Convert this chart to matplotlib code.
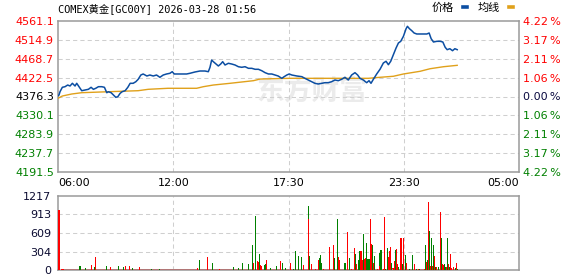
import matplotlib
matplotlib.use("Agg")
import matplotlib.pyplot as plt
from matplotlib.lines import Line2D

title = "COMEX黄金[GC00Y] 2026-03-28 01:56"
prev_close = 4376.3
price_ticks = [4191.5, 4237.7, 4283.9, 4330.1, 4376.3, 4422.5, 4468.7, 4514.9, 4561.1]
pct_labels = ["4.22\u2009%", "3.17\u2009%", "2.11\u2009%", "1.06\u2009%", "0.00\u2009%",
              "1.06\u2009%", "2.11\u2009%", "3.17\u2009%", "4.22\u2009%"]
time_ticks = [0, 345, 690, 1035, 1380]          # minutes after 06:00
time_labels = ["06:00", "12:00", "17:30", "23:30", "05:00"]
vol_ticks = [0, 304, 609, 913, 1217]

# price (minutes after 06:00)
price_min = [0, 3, 6, 13, 21, 29, 36, 43, 51, 56, 63, 71, 81, 91, 99, 106, 113, 121, 131, 139,
             146, 151, 159, 166, 173, 179, 186, 192, 201, 209, 216, 225, 233, 240, 248, 255,
             266, 275, 285, 295, 305, 315, 325, 335, 342, 348, 355, 370, 385, 395, 410, 425,
             440, 450, 455, 460, 465, 473, 480, 487, 493, 500, 510, 520, 530, 540, 550, 560,
             570, 580, 590, 600, 610, 620, 630, 640, 650, 659, 670, 677, 685, 692, 700, 715,
             730, 739, 749, 759, 769, 779, 789, 799, 809, 819, 829, 839, 849, 859, 869, 879,
             889, 897, 904, 914, 924, 931, 937, 944, 954, 964, 974, 982, 989, 996, 1004, 1012,
             1019, 1026, 1034, 1042, 1046, 1052, 1059, 1066, 1074, 1084, 1094, 1104, 1111,
             1117, 1124, 1134, 1144, 1152, 1159, 1165, 1173, 1181, 1188, 1195]
price = [4378.0, 4380.0, 4388.0, 4398.8, 4400.3, 4404.4, 4402.0, 4408.6, 4402.0, 4408.6,
         4400.3, 4390.5, 4392.2, 4393.9, 4398.8, 4393.9, 4396.4, 4400.3, 4400.3, 4398.8,
         4385.6, 4388.0, 4385.6, 4380.0, 4374.3, 4375.8, 4384.1, 4388.0, 4390.5, 4398.8,
         4408.6, 4408.6, 4412.5, 4418.4, 4428.9, 4431.4, 4426.5, 4428.9, 4426.5, 4428.9,
         4423.3, 4428.9, 4431.4, 4433.1, 4437.0, 4431.4, 4431.4, 4431.4, 4431.4, 4433.1,
         4436.3, 4438.7, 4438.7, 4437.0, 4447.8, 4465.6, 4461.5, 4455.8, 4451.0, 4455.8,
         4461.5, 4453.4, 4457.6, 4455.8, 4453.4, 4449.2, 4447.8, 4449.2, 4445.3, 4445.3,
         4442.9, 4442.9, 4439.4, 4434.6, 4431.4, 4431.4, 4428.9, 4426.5, 4420.8, 4424.8,
         4428.9, 4431.4, 4428.9, 4426.5, 4424.8, 4420.8, 4416.7, 4412.5, 4408.6, 4406.9,
         4408.6, 4410.1, 4410.1, 4412.5, 4416.7, 4415.0, 4418.4, 4423.3, 4416.7, 4428.9,
         4434.6, 4428.9, 4420.8, 4416.7, 4410.1, 4415.0, 4408.6, 4418.4, 4431.4, 4443.0,
         4458.3, 4462.5, 4454.1, 4462.5, 4478.6, 4495.0, 4507.2, 4511.4, 4523.6, 4542.3,
         4548.1, 4542.3, 4537.4, 4531.7, 4529.3, 4529.3, 4529.3, 4529.3, 4531.7, 4517.8,
         4509.7, 4511.4, 4511.4, 4509.7, 4496.7, 4490.9, 4493.3, 4488.4, 4493.3, 4490.9]

avg_min = [0, 13, 41, 71, 151, 240, 270, 329, 415, 435, 465, 515, 585, 605, 692, 929,
           964, 1004, 1034, 1084, 1114, 1154, 1195]
avg_price = [4371.9, 4377.5, 4382.4, 4385.6, 4388.0, 4390.5, 4393.9, 4396.4, 4396.4, 4400.3,
             4404.4, 4408.6, 4415.0, 4419.0, 4420.8, 4420.8, 4423.3, 4425.8, 4431.4, 4438.0,
             4444.3, 4449.2, 4452.6]

# volume
quiet_min = list(range(15, 1186, 15))
quiet_vol = [18, 12, 15, 20, 14, 16, 12, 18, 15, 13,
             17, 14, 20, 12, 15, 16, 13, 18, 14, 12,
             16, 15, 19, 13, 14, 17, 12, 15, 18, 14,
             16, 13, 15, 20, 14, 12, 17, 15, 13, 18,
             16, 14, 19, 15, 12, 17, 14, 20, 16, 13,
             18, 15, 22, 17, 14, 19, 16, 24, 18, 15,
             20, 17, 14, 22, 18, 16, 25, 19, 15, 21,
             17, 23, 18, 16, 20, 15, 22, 18, 14]
red_min = [3, 12, 16, 99, 112, 156, 202, 213, 243, 417, 447, 483, 584, 596, 599, 607, 610,
           624, 666, 695, 736, 749, 758, 770, 779, 794, 814, 824, 840, 844, 866, 879, 887,
           894, 907, 912, 917, 920, 935, 938, 944, 956, 962, 974, 977, 989, 992, 995, 1004,
           1007, 1013, 1016, 1024, 1029, 1035, 1044, 1066, 1079, 1096, 1104, 1109, 1115,
           1121, 1127, 1134, 1144, 1150, 1153, 1162, 1168, 1174, 1177, 1183, 1192]
red_vol = [990, 20, 18, 77, 210, 45, 60, 60, 45, 28, 216, 15, 110, 144, 133, 77, 66,
           160, 144, 110, 77, 841, 94, 20, 160, 20, 376, 410, 210, 160, 625, 10, 360,
           94, 310, 160, 177, 194, 841, 427, 110, 20, 60, 20, 875, 210, 310, 376, 20,
           144, 343, 94, 525, 525, 525, 110, 94, 20, 15, 127, 1122, 60,
           60, 227, 45, 958, 94, 77, 45, 94, 260, 28, 45, 110]
green_min = [0, 66, 81, 109, 144, 181, 196, 222, 280, 305, 423, 462, 525, 540, 552, 570,
             582, 586, 590, 603, 618, 621, 636, 654, 671, 680, 706, 712, 719, 730, 749, 752,
             782, 786, 790, 827, 836, 859, 872, 889, 899, 904, 914, 924, 928, 931, 941, 947,
             964, 967, 981, 986, 999, 1010, 1019, 1032, 1039, 1052, 1060, 1072, 1082, 1099,
             1107, 1111, 1117, 1124, 1130, 1139, 1147, 1156, 1159, 1165, 1171, 1189, 1195]
green_vol = [200, 60, 30, 45, 60, 60, 45, 28, 22, 15, 160, 110, 45, 28, 110, 94,
             410, 110, 890, 260, 77, 94, 28, 60, 110, 28, 20, 310, 227, 210, 1057, 227,
             194, 243, 110, 194, 841, 110, 194, 260, 160, 310, 592, 443, 177, 177, 410, 227,
             277, 327, 20, 360, 110, 327, 45, 100, 243, 20, 243, 20, 15, 410,
             160, 643, 525, 410, 45, 45, 525, 94, 45, 525, 45, 28, 10]

blue = "#0c4ea2"
gold = "#e0a11b"
red = "#ff0000"
green = "#008000"
frame = "#9a9a9a"
gridc = "#cfcfcf"

fig = plt.figure(figsize=(5.78, 2.76), dpi=100)
W, H = 578, 276
ax = fig.add_axes([58 / W, 104 / H, 461 / W, 151 / H])
axv = fig.add_axes([58 / W, 6 / H, 461 / W, 74 / H])

ax.text(0.551, 0.53, "东方财富", transform=ax.transAxes, ha="center", va="center",
        fontsize=20, fontweight="bold", color="#ebebeb", family="Noto Sans CJK SC", zorder=0)

ax.plot(avg_min, avg_price, color=gold, lw=1.0, zorder=3)
ax.plot(price_min, price, color=blue, lw=1.1, zorder=4)

for a in (ax, axv):
    a.set_xlim(time_ticks[0], time_ticks[-1])
    for s in a.spines.values():
        s.set_color(frame)
        s.set_linewidth(1.1)
    a.tick_params(length=0)
    for t in time_ticks[1:-1]:
        a.axvline(t, color=gridc, lw=0.75, ls=(0, (4, 3)), zorder=1)

ax.set_ylim(price_ticks[0], price_ticks[-1])
ax.set_yticks(price_ticks)
ax.set_yticklabels([f"{v:.1f}" for v in price_ticks], fontsize=8)
for v, lab in zip(price_ticks, ax.get_yticklabels()):
    lab.set_color(red if v > prev_close else (green if v < prev_close else "black"))
for v in price_ticks[1:-1]:
    ax.axhline(v, color=gridc, lw=0.75, ls=(0, (4, 3)), zorder=1)
ax.tick_params(axis="y", pad=3)

ax.set_xticks(time_ticks)
ax.set_xticklabels(time_labels, fontsize=8)
ax.tick_params(axis="x", pad=4)
xl = ax.get_xticklabels()
xl[0].set_ha("left")
xl[-1].set_ha("right")

axr = ax.twinx()
axr.set_ylim(price_ticks[0], price_ticks[-1])
axr.set_yticks(price_ticks)
axr.set_yticklabels(pct_labels[::-1], fontsize=8)
for v, lab in zip(price_ticks, axr.get_yticklabels()):
    lab.set_color(red if v > prev_close else (green if v < prev_close else "#0a0a40"))
axr.tick_params(length=0, pad=3)
for s in axr.spines.values():
    s.set_visible(False)

axv.bar(quiet_min, quiet_vol, width=15, color=red, linewidth=0, zorder=2)
axv.bar(green_min, green_vol, width=3.3, color=green, linewidth=0, antialiased=False, zorder=3)
axv.bar(red_min, red_vol, width=3.3, color=red, linewidth=0, antialiased=False, zorder=3)
axv.set_ylim(vol_ticks[0], vol_ticks[-1])
axv.set_yticks(vol_ticks)
axv.set_yticklabels([str(v) for v in vol_ticks], fontsize=8, color="#0a0a30")
axv.set_xticks([])
axv.tick_params(axis="y", pad=5)
for v in vol_ticks[1:-1]:
    axv.axhline(v, color=gridc, lw=0.75, ls=(0, (4, 3)), zorder=1)

fig.text(58 / W, 1 - 9 / H, title, ha="left", va="center", fontsize=7.4,
         family=["DejaVu Sans Mono", "Noto Sans CJK SC"])

handles = [Line2D([0], [0], color=blue, lw=2.6), Line2D([0], [0], color=gold, lw=2.6)]
fig.legend(handles, ["价格", "均线"], loc="upper right", bbox_to_anchor=(513 / W, 1 - 3 / H),
           ncol=2, markerfirst=False, frameon=False, handlelength=0.35, handletextpad=0.8,
           columnspacing=1.0, borderpad=0, borderaxespad=0,
           prop={"family": "Noto Sans CJK SC", "size": 8})

fig.savefig("out.png", dpi=100)
